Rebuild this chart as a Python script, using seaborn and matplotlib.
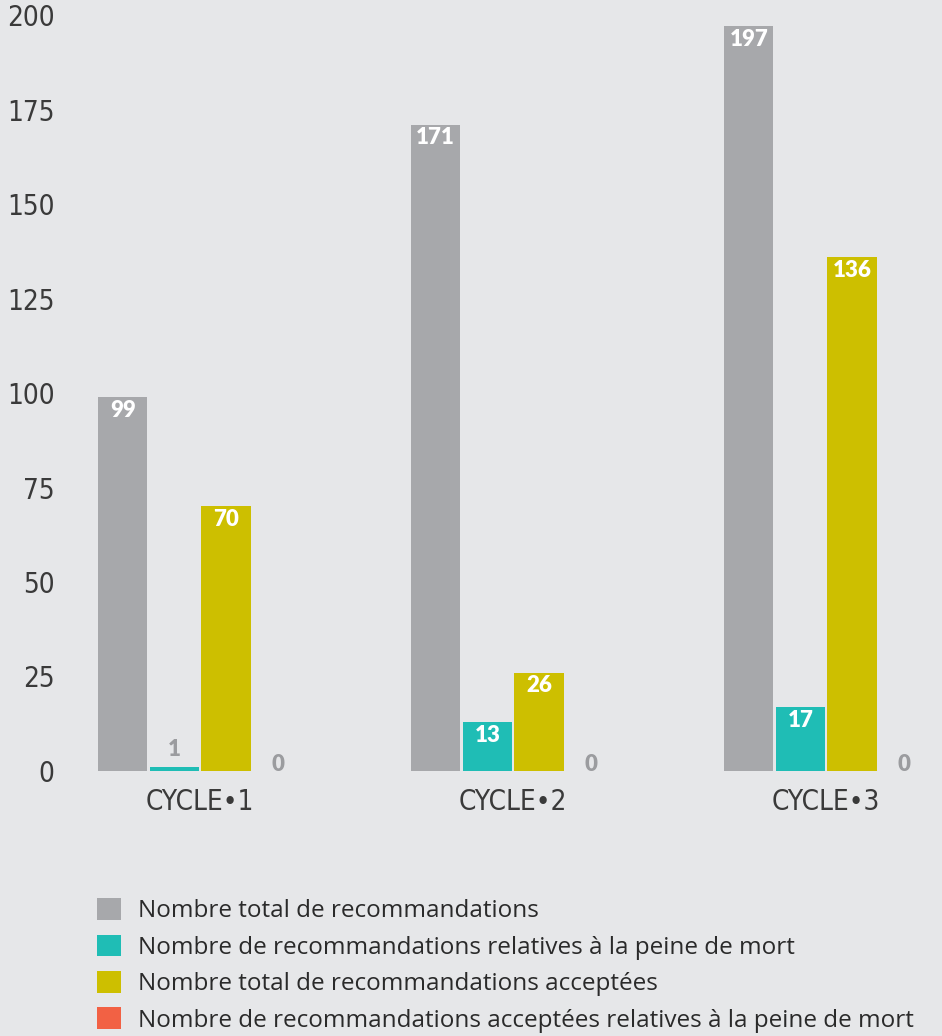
import seaborn as sns
import matplotlib.pyplot as plt
import pandas as pd

# data
cycles = ['CYCLE•1', 'CYCLE•2', 'CYCLE•3']
series = ['Nombre total de recommandations',
          'Nombre de recommandations relatives à la peine de mort',
          'Nombre total de recommandations acceptées',
          'Nombre de recommandations acceptées relatives à la peine de mort']
total = [99, 171, 197]
peine_mort = [1, 13, 17]
acceptees = [70, 26, 136]
acceptees_peine_mort = [0, 0, 0]
colors = ['#a7a8ab', '#1fbdb5', '#cdbf00', '#f26144']

rows = []
for s, vals in zip(series, [total, peine_mort, acceptees, acceptees_peine_mort]):
    for c, v in zip(cycles, vals):
        rows.append({'cycle': c, 'serie': s, 'valeur': v})
df = pd.DataFrame(rows)

bg = '#e6e7e9'
sns.set_style('white')
plt.rcParams['font.family'] = ['Open Sans', 'DejaVu Sans']

fig = plt.figure(figsize=(9.42, 10.36), dpi=100, facecolor=bg)
ax = fig.add_axes([0.064, 0.2558, 0.936, 0.7297])
ax.set_facecolor(bg)

sns.barplot(data=df, x='cycle', y='valeur', hue='serie', hue_order=series,
            palette=colors, width=0.66, gap=0.05, linewidth=0, saturation=1,
            ax=ax, legend=True)

# value labels
for cont in ax.containers:
    for bar in cont:
        v = bar.get_height()
        xc = bar.get_x() + bar.get_width() / 2
        if v >= 10:
            ax.annotate(f'{v:.0f}', (xc, v), xytext=(0, -2), textcoords='offset points',
                        ha='center', va='top', color='white', fontsize=16,
                        fontweight='heavy', family=['Lato', 'DejaVu Sans'])
        else:
            ax.annotate(f'{v:.0f}', (xc, v), xytext=(0, 5 if v > 0 else -3),
                        textcoords='offset points', ha='center', va='bottom',
                        color='#9b9c9f', fontsize=16, fontweight='heavy',
                        family=['Lato', 'DejaVu Sans'])

ax.set_ylim(0, 200)
ax.set_xlim(-0.447, 2.37)
ax.set_yticks(range(0, 201, 25))
ax.set_xlabel('')
ax.set_ylabel('')
sns.despine(ax=ax, left=True, bottom=True)
ax.tick_params(axis='both', length=0, labelcolor='#3a3a3a')
for lab in ax.get_yticklabels() + ax.get_xticklabels():
    lab.set_family(['DejaVu Sans', 'Lato'])
    lab.set_stretch('condensed')
    lab.set_fontsize(20)
    lab.set_fontweight('light')
ax.tick_params(axis='x', pad=12)
ax.tick_params(axis='y', pad=4)

handles, labels = ax.get_legend_handles_labels()
ax.get_legend().remove()
fig.legend(handles, labels, loc='upper left', bbox_to_anchor=(0.103, 0.133),
           frameon=False, fontsize=17.5, handlelength=0.98, handleheight=1.0,
           handletextpad=0.7, labelspacing=0.46, borderpad=0, borderaxespad=0,
           labelcolor='#2a2a2a')

fig.savefig('out.png', dpi=100, facecolor=bg)
